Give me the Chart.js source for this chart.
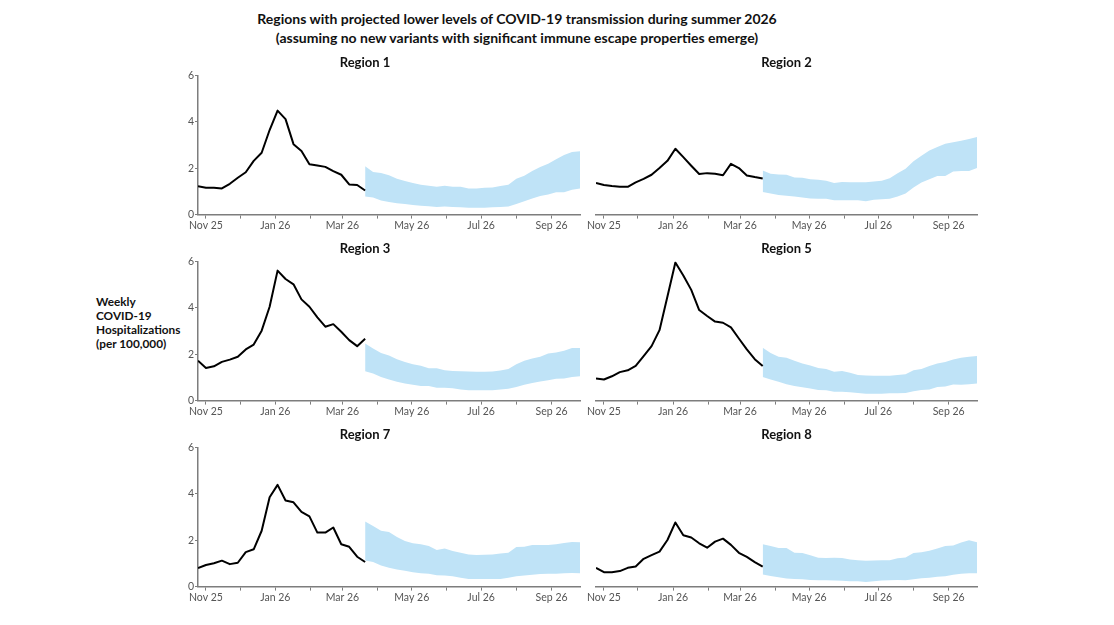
<!DOCTYPE html>
<html><head><meta charset="utf-8">
<script src="https://cdn.jsdelivr.net/npm/chart.js@4.4.1/dist/chart.umd.min.js"></script>
<style>
html,body{margin:0;padding:0;background:#fff;}
body{width:1114px;height:625px;position:relative;overflow:hidden;font-family:Lato,"Noto Sans",sans-serif;}
#title{position:absolute;left:167px;width:700px;top:8.5px;text-align:center;font-weight:700;font-size:14px;line-height:19px;color:#111;}
#ylab{position:absolute;left:96px;top:295px;font-weight:700;font-size:11.8px;line-height:14px;color:#111;}
canvas{position:absolute;}
</style></head><body>
<div id="title">Regions with projected lower levels of COVID-19 transmission during summer 2026<br>(assuming no new variants with significant immune escape properties emerge)</div>
<div id="ylab">Weekly<br>COVID-19<br>Hospitalizations<br>(per 100,000)</div>
<canvas id="c0"></canvas><canvas id="c1"></canvas><canvas id="c2"></canvas>
<canvas id="c3"></canvas><canvas id="c4"></canvas><canvas id="c5"></canvas>
<script>
// ---- data ----
const regionNames = ['Region 1','Region 2','Region 3','Region 5','Region 7','Region 8'];
const obsDates = ['2025-10-25','2025-11-01','2025-11-08','2025-11-15','2025-11-22','2025-11-29','2025-12-06','2025-12-13','2025-12-20','2025-12-27','2026-01-03','2026-01-10','2026-01-17','2026-01-24','2026-01-31','2026-02-07','2026-02-14','2026-02-21','2026-02-28','2026-03-07','2026-03-14','2026-03-21'];
const projDates = ['2026-03-21','2026-03-28','2026-04-04','2026-04-11','2026-04-18','2026-04-25','2026-05-02','2026-05-09','2026-05-16','2026-05-23','2026-05-30','2026-06-06','2026-06-13','2026-06-20','2026-06-27','2026-07-04','2026-07-11','2026-07-18','2026-07-25','2026-08-01','2026-08-08','2026-08-15','2026-08-22','2026-08-29','2026-09-05','2026-09-12','2026-09-19','2026-09-26'];
const tickDates = ['2025-11-01','2025-12-01','2026-01-01','2026-02-01','2026-03-01','2026-04-01','2026-05-01','2026-06-01','2026-07-01','2026-08-01','2026-09-01'];
const tickLabels = ['Nov 25','','Jan 26','','Mar 26','','May 26','','Jul 26','','Sep 26'];
const xMinDate = '2025-10-25', xMaxDate = '2026-09-26';
const yTicks = [0,2,4,6];

const region1Obs = [1.22,1.16,1.16,1.13,1.33,1.59,1.83,2.32,2.67,3.65,4.49,4.12,3.04,2.75,2.17,2.12,2.06,1.88,1.72,1.30,1.28,1.04];
const region1Upper = [2.09,1.84,1.80,1.70,1.55,1.45,1.36,1.29,1.25,1.20,1.25,1.20,1.20,1.13,1.13,1.16,1.17,1.23,1.29,1.55,1.68,1.88,2.06,2.20,2.39,2.57,2.70,2.73];
const region1Lower = [0.78,0.74,0.61,0.54,0.49,0.46,0.41,0.38,0.36,0.33,0.35,0.33,0.32,0.30,0.30,0.30,0.32,0.33,0.35,0.46,0.58,0.70,0.80,0.87,0.96,0.97,1.07,1.13];

const region2Obs = [1.36,1.28,1.23,1.20,1.20,1.39,1.54,1.72,2.01,2.32,2.84,2.48,2.11,1.75,1.79,1.76,1.70,2.19,2.01,1.69,1.62,1.56];
const region2Upper = [1.90,1.76,1.73,1.72,1.60,1.59,1.53,1.50,1.46,1.36,1.41,1.40,1.40,1.40,1.43,1.46,1.57,1.79,1.98,2.30,2.54,2.77,2.92,3.06,3.12,3.19,3.26,3.35];
const region2Lower = [0.98,0.91,0.85,0.81,0.78,0.74,0.69,0.68,0.68,0.62,0.62,0.62,0.62,0.58,0.64,0.66,0.68,0.78,0.91,1.17,1.39,1.53,1.67,1.67,1.86,1.88,1.88,2.01];

const region3Obs = [1.72,1.41,1.48,1.67,1.77,1.89,2.21,2.42,3.02,4.05,5.61,5.25,5.02,4.37,4.05,3.59,3.19,3.30,2.97,2.61,2.35,2.67];
const region3Upper = [2.47,2.25,2.06,1.95,1.79,1.67,1.57,1.50,1.40,1.40,1.31,1.28,1.27,1.26,1.24,1.24,1.26,1.30,1.36,1.57,1.72,1.82,1.89,2.03,2.08,2.15,2.27,2.27];
const region3Lower = [1.27,1.17,1.02,0.91,0.81,0.74,0.68,0.63,0.63,0.56,0.56,0.53,0.48,0.45,0.45,0.45,0.45,0.48,0.51,0.59,0.68,0.76,0.82,0.88,0.94,0.95,1.02,1.05];

const region5Obs = [0.95,0.91,1.05,1.23,1.31,1.50,1.92,2.35,3.04,4.49,5.96,5.40,4.78,3.91,3.65,3.41,3.36,3.16,2.68,2.21,1.79,1.49];
const region5Upper = [2.28,2.06,1.89,1.85,1.72,1.60,1.52,1.41,1.36,1.24,1.28,1.20,1.10,1.08,1.07,1.07,1.07,1.11,1.14,1.31,1.36,1.49,1.60,1.67,1.77,1.85,1.89,1.92];
const region5Lower = [1.02,0.91,0.81,0.71,0.63,0.58,0.52,0.46,0.45,0.38,0.38,0.36,0.33,0.30,0.30,0.30,0.32,0.32,0.33,0.40,0.46,0.48,0.59,0.61,0.69,0.68,0.71,0.74];

const region7Obs = [0.80,0.93,1.01,1.12,0.97,1.03,1.49,1.61,2.41,3.86,4.39,3.72,3.64,3.23,3.03,2.33,2.33,2.55,1.83,1.72,1.29,1.06];
const region7Upper = [2.81,2.62,2.41,2.36,2.14,1.97,1.87,1.83,1.75,1.58,1.64,1.54,1.46,1.39,1.36,1.38,1.39,1.43,1.46,1.71,1.72,1.80,1.80,1.80,1.83,1.88,1.93,1.91];
const region7Lower = [1.13,1.06,0.91,0.81,0.74,0.68,0.62,0.58,0.55,0.49,0.48,0.45,0.38,0.33,0.33,0.33,0.33,0.33,0.38,0.45,0.48,0.51,0.54,0.55,0.55,0.58,0.59,0.58];

const region8Obs = [0.81,0.62,0.62,0.67,0.81,0.87,1.20,1.36,1.51,2.01,2.77,2.22,2.12,1.87,1.68,1.94,2.07,1.80,1.46,1.28,1.06,0.86];
const region8Upper = [1.83,1.75,1.67,1.67,1.46,1.45,1.35,1.25,1.23,1.25,1.23,1.17,1.14,1.12,1.13,1.14,1.14,1.22,1.26,1.45,1.48,1.55,1.65,1.75,1.77,1.90,2.00,1.91];
const region8Lower = [0.52,0.46,0.40,0.35,0.33,0.32,0.29,0.27,0.27,0.26,0.25,0.23,0.23,0.20,0.23,0.26,0.27,0.29,0.27,0.32,0.36,0.38,0.42,0.45,0.51,0.55,0.58,0.58];

const obsSeries = [region1Obs,region2Obs,region3Obs,region5Obs,region7Obs,region8Obs];
const upperSeries = [region1Upper,region2Upper,region3Upper,region5Upper,region7Upper,region8Upper];
const lowerSeries = [region1Lower,region2Lower,region3Lower,region5Lower,region7Lower,region8Lower];

// ---- chart building ----
const DAY = 86400000;
const t = d => Date.parse(d + 'T00:00:00Z') / DAY;
const tickVals = tickDates.map(t);
const FONT = 'Lato, "Noto Sans", sans-serif';
const AXIS = '#7d7d7d';
const BAND = '#bfe3f7';

const rowTops = [53.4, 239.4, 425.4];
const layoutCols = [
  {left:150, width:492, padL:0, padR:62, yAxis:true},
  {left:575, width:437, padL:21, padR:35, yAxis:false}
];

regionNames.forEach((name, i) => {
  const col = layoutCols[i % 2];
  const top = rowTops[Math.floor(i / 2)];
  const cv = document.getElementById('c' + i);
  cv.width = col.width; cv.height = 190;
  cv.style.left = col.left + 'px'; cv.style.top = top + 'px';
  cv.style.width = col.width + 'px'; cv.style.height = '190px';
  new Chart(cv, {
    type: 'line',
    data: {
      datasets: [
        {data: obsDates.map((d, k) => ({x: t(d), y: obsSeries[i][k]})), borderColor:'#000', borderWidth:2, pointRadius:0, fill:false, tension:0, borderJoinStyle:'round'},
        {data: projDates.map((d, k) => ({x: t(d), y: upperSeries[i][k]})), borderWidth:0, borderColor:'rgba(0,0,0,0)', backgroundColor:BAND, pointRadius:0, fill:'+1', tension:0},
        {data: projDates.map((d, k) => ({x: t(d), y: lowerSeries[i][k]})), borderWidth:0, borderColor:'rgba(0,0,0,0)', pointRadius:0, fill:false, tension:0}
      ]
    },
    options: {
      responsive:false, animation:false, devicePixelRatio: window.devicePixelRatio || 1,
      layout: {padding: {left: col.padL, right: col.padR, top:0, bottom:0}},
      plugins: {
        legend:{display:false}, tooltip:{enabled:false},
        title:{display:true, text:name, color:'#111', font:{family:FONT, size:13, weight:'bold'}, padding:{top:2, bottom:5}}
      },
      scales: {
        x: {
          type:'linear', min:t(xMinDate), max:t(xMaxDate),
          afterBuildTicks: s => { s.ticks = tickVals.map(v => ({value:v})); },
          afterFit: s => { s.height = 28.4; },
          ticks: {autoSkip:false, maxRotation:0, padding:1, color:'#555', font:{family:FONT, size:10.5},
                  callback: (v, idx) => tickLabels[idx]},
          grid: {drawOnChartArea:false, drawTicks:true, tickLength:4, color:AXIS, lineWidth:1},
          border: {display:true, color:AXIS, width:1.5}
        },
        y: {
          display: col.yAxis, min:0, max:6,
          afterBuildTicks: s => { s.ticks = yTicks.map(v => ({value:v})); },
          afterFit: s => { s.width = col.yAxis ? 48 : 0; },
          ticks: {padding:1, color:'#555', font:{family:FONT, size:10.5}},
          grid: {drawOnChartArea:false, drawTicks:true, tickLength:3, color:AXIS, lineWidth:1},
          border: {display:true, color:AXIS, width:1.5}
        }
      }
    }
  });
});
</script>
</body></html>
